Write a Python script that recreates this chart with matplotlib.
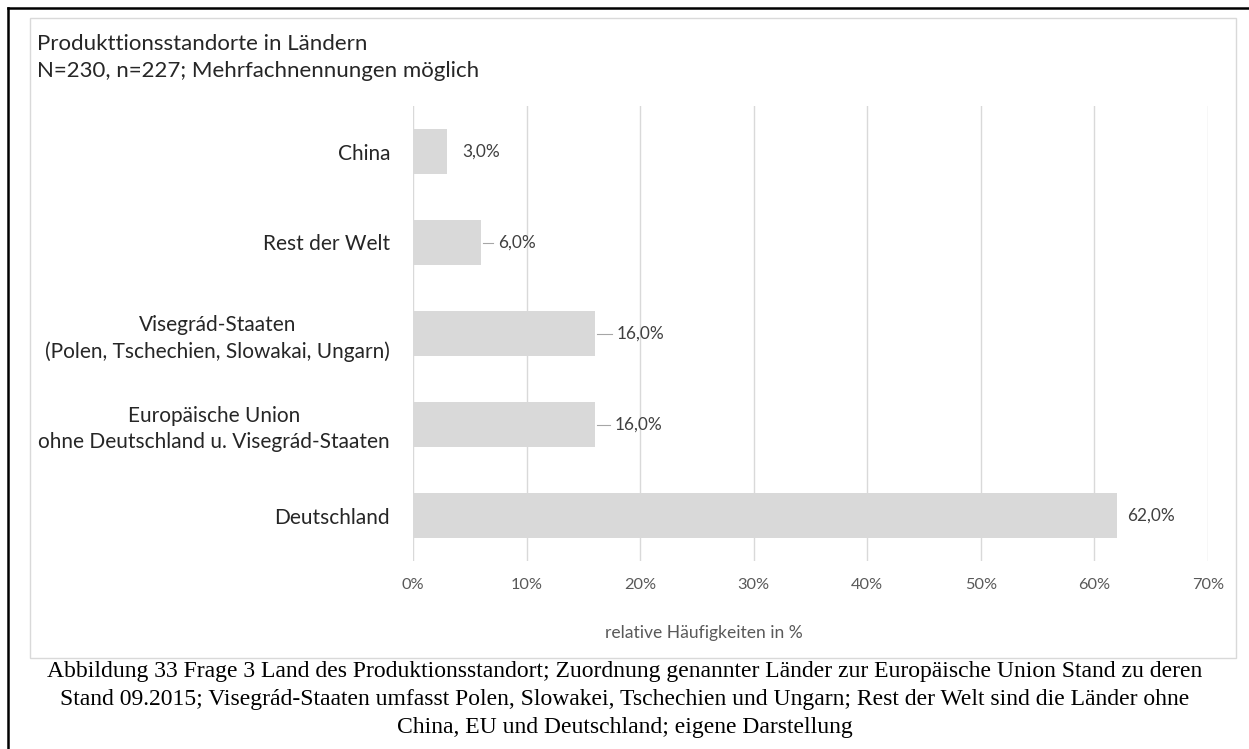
import matplotlib
matplotlib.use("Agg")
import matplotlib.pyplot as plt
from matplotlib.lines import Line2D
from matplotlib.patches import Rectangle

# data, bottom to top as drawn
categories = [
    "Deutschland",
    "Europäische Union\nohne Deutschland u. Visegrád-Staaten",
    "Visegrád-Staaten\n(Polen, Tschechien, Slowakai, Ungarn)",
    "Rest der Welt",
    "China",
]
values = [62.0, 16.0, 16.0, 6.0, 3.0]
value_labels = ["62,0%", "16,0%", "16,0%", "6,0%", "3,0%"]
x_ticks = [0, 10, 20, 30, 40, 50, 60, 70]
x_tick_labels = ["0%", "10%", "20%", "30%", "40%", "50%", "60%", "70%"]

title_lines = ["Produkttionsstandorte in Ländern",
               "N=230, n=227; Mehrfachnennungen möglich"]
axis_title = "relative Häufigkeiten in %"
caption_lines = [
    "Abbildung 33 Frage 3 Land des Produktionsstandort; Zuordnung genannter Länder zur Europäische Union Stand zu deren",
    "Stand 09.2015; Visegrád-Staaten umfasst Polen, Slowakei, Tschechien und Ungarn; Rest der Welt sind die Länder ohne",
    "China, EU und Deutschland; eigene Darstellung",
]

# label placement as Excel did it: gap in px after bar end, leader line or not
label_gap = [10, 20, 22, 17, 15]
has_leader = [False, True, True, True, False]

W, H = 1249, 749
fig = plt.figure(figsize=(W / 100, H / 100), dpi=100)
fig.patch.set_facecolor("white")

def fx(px):
    return px / W

def fy(py):
    return 1 - py / H

font = "Lato"

# outer black frame (top and left visible)
fig.add_artist(Line2D([fx(8), 1.0], [fy(8), fy(8)], color="black", lw=1.8))
fig.add_artist(Line2D([fx(8), fx(8)], [fy(8), 0.0], color="black", lw=1.8))
# chart area border
fig.add_artist(Rectangle((fx(30), fy(658)), fx(1236) - fx(30), fy(18) - fy(658),
                         fill=False, edgecolor="#d9d9d9", lw=1.0))

ax = fig.add_axes([fx(413), fy(561), fx(1208) - fx(413), fy(106) - fy(561)])
y = list(range(len(categories)))
ax.barh(y, values, height=0.5, color="#d9d9d9", zorder=2)
ax.set_xlim(0, 70)
ax.set_ylim(-0.5, len(categories) - 0.5)
ax.set_axisbelow(True)
ax.grid(axis="x", color="#d9d9d9", lw=1.0)
for s in ax.spines.values():
    s.set_visible(False)

ax.set_xticks(x_ticks)
ax.set_xticklabels(x_tick_labels, fontfamily=font, fontsize=11.8, color="#595959")
ax.tick_params(axis="x", length=0, pad=12)
ax.set_yticks(y)
ax.set_yticklabels(categories, fontfamily=font, fontsize=15, color="#262626",
                   linespacing=1.35)
ax.tick_params(axis="y", length=0, pad=16.5)
for t in ax.get_yticklabels():
    t.set_multialignment("center")

px_per_unit = (1208 - 413) / 70.0
for yi, v, lab, gap, lead in zip(y, values, value_labels, label_gap, has_leader):
    xt = v + gap / px_per_unit
    ax.text(xt, yi, lab, ha="left", va="center", fontfamily=font,
            fontsize=12.4, color="#404040")
    if lead:
        ax.plot([v + 2 / px_per_unit, xt - 5 / px_per_unit], [yi, yi],
                color="#a6a6a6", lw=0.8, zorder=3)

fig.text(fx(37), fy(44), title_lines[0], ha="left", va="center",
         fontfamily=font, fontsize=16, color="#262626")
fig.text(fx(37), fy(71), title_lines[1], ha="left", va="center",
         fontfamily=font, fontsize=16, color="#262626")
fig.text(fx(703.5), fy(633), axis_title, ha="center", va="center",
         fontfamily=font, fontsize=12.6, color="#595959")

for i, line in enumerate(caption_lines):
    fig.text(fx(625), fy(672 + 27.5 * i), line, ha="center", va="center",
             fontfamily="Liberation Serif", fontsize=17, color="black")

fig.savefig("out.png", dpi=100)
